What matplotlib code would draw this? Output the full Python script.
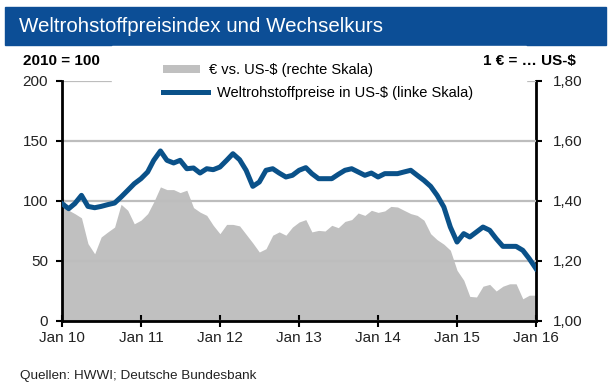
import matplotlib
matplotlib.use("Agg")
import matplotlib.pyplot as plt
import matplotlib.dates as mdates
from matplotlib.patches import Rectangle, Patch
from matplotlib.lines import Line2D
import pandas as pd

plt.rcParams['font.family'] = ['Liberation Sans', 'DejaVu Sans']

# monthly, Jan 2010 .. Jan 2016
months = pd.date_range("2010-01-01", "2016-01-01", freq="MS")

# Weltrohstoffpreise in US-$ (2010 = 100), left scale
commodity = [
    97.8, 93.6, 97.8, 104.7, 95.5, 94.4, 95.5, 97.0, 98.3, 103.3, 108.9, 114.4,
    118.6, 124.2, 133.9, 141.7, 133.9, 131.7, 133.9, 126.9, 127.5, 123.3, 126.9, 126.1,
    128.3, 133.9, 139.4, 134.4, 125.6, 112.2, 115.8, 125.6, 126.9, 123.3, 120.0, 121.4,
    125.6, 127.8, 122.8, 118.6, 118.6, 118.6, 122.2, 125.6, 126.9, 124.2, 121.4, 123.3,
    120.0, 122.8, 122.8, 122.8, 124.2, 125.6, 121.4, 117.2, 112.2, 104.7, 95.0, 78.3,
    65.8, 72.8, 70.0, 74.2, 78.3, 75.6, 68.6, 62.2, 62.2, 62.2, 58.9, 51.9,
    43.6,
]

# EUR vs. US-$, right scale
eurusd = [
    1.419, 1.369, 1.358, 1.344, 1.258, 1.224, 1.280, 1.297, 1.313, 1.389, 1.369, 1.324,
    1.336, 1.358, 1.397, 1.447, 1.438, 1.438, 1.428, 1.436, 1.378, 1.363, 1.352, 1.319,
    1.291, 1.322, 1.322, 1.317, 1.289, 1.260, 1.230, 1.241, 1.286, 1.297, 1.286, 1.313,
    1.330, 1.338, 1.297, 1.302, 1.300, 1.319, 1.311, 1.332, 1.338, 1.360, 1.352, 1.369,
    1.362, 1.367, 1.382, 1.380, 1.369, 1.358, 1.352, 1.336, 1.291, 1.271, 1.256, 1.236,
    1.169, 1.136, 1.082, 1.080, 1.116, 1.122, 1.100, 1.116, 1.124, 1.124, 1.074, 1.086,
    1.086,
]

left_ticks = [0, 50, 100, 150, 200]
right_ticks = [1.0, 1.2, 1.4, 1.6, 1.8]
right_labels = ["1,00", "1,20", "1,40", "1,60", "1,80"]

BLUE = "#0a5189"
GREY = "#c0c0c0"
BANNER = "#0c4e96"
W, H = 612, 391


def fx(px):
    return px / W


def fy(py):
    return 1 - py / H


fig = plt.figure(figsize=(W / 100, H / 100), dpi=100)
ax = fig.add_axes([fx(62), fy(321), 474 / W, 240 / H])
ax2 = ax.twinx()
ax.set_zorder(ax2.get_zorder() + 1)
ax.patch.set_visible(False)

# grey area (right scale) under the blue line (left scale)
ax2.fill_between(months, 1.0, eurusd, color=GREY, lw=0, zorder=1)
ax.plot(months, commodity, color=BLUE, lw=3.6, solid_joinstyle="round", zorder=3)

ax.set_ylim(0, 200)
ax2.set_ylim(1.0, 1.8)
ax.set_xlim(months[0], months[-1])
ax.set_yticks(left_ticks)
ax.set_yticklabels([str(t) for t in left_ticks])
ax2.set_yticks(right_ticks)
ax2.set_yticklabels(right_labels)

ax.xaxis.set_major_locator(mdates.YearLocator())
ax.xaxis.set_major_formatter(mdates.DateFormatter("Jan %y"))

ax.grid(axis="y", color="#bdbdbd", lw=1.6, zorder=0)
ax.set_axisbelow(True)

for a in (ax, ax2):
    for s in a.spines.values():
        s.set_linewidth(2.0)
        s.set_color("black")
    a.spines["top"].set_visible(False)
ax.spines["right"].set_visible(False)
ax2.spines["left"].set_visible(False)
ax2.spines["bottom"].set_visible(False)

ax.tick_params(axis="y", direction="out", length=4, width=1.5, labelsize=11, pad=6,
               labelcolor="#222222")
ax.tick_params(axis="x", direction="inout", length=8, width=1.5, labelsize=11, pad=3,
               labelcolor="#222222")
ax2.tick_params(axis="y", direction="out", length=4, width=1.5, labelsize=11, pad=8,
                labelcolor="#222222")

# title banner
fig.patches.append(Rectangle((fx(5), fy(45)), 601 / W, 38 / H,
                             transform=fig.transFigure, color=BANNER, zorder=0))
fig.text(fx(19), fy(27), "Weltrohstoffpreisindex und Wechselkurs",
         color="white", fontsize=14.8, va="center", ha="left")

# white box behind the legend (hides the top gridline)
fig.patches.append(Rectangle((fx(112), fy(108)), 414 / W, 62 / H,
                             transform=fig.transFigure, color="white", zorder=4))

fig.text(fx(23), fy(61), "2010 = 100", fontsize=11, fontweight="bold",
         va="center", ha="left", zorder=6)
fig.text(fx(576), fy(61), "1 € = … US-$", fontsize=11, fontweight="bold",
         va="center", ha="right", zorder=6)

# legend: two rows placed separately
leg1 = fig.legend([Patch(facecolor=GREY, edgecolor="none")],
                  ["€ vs. US-$ (rechte Skala)"], loc="center left",
                  bbox_to_anchor=(fx(163), fy(70)), frameon=False, fontsize=10.5,
                  handlelength=2.55, handleheight=0.45, handletextpad=0.62,
                  borderpad=0, borderaxespad=0)
leg2 = fig.legend([Line2D([0], [0], color=BLUE, lw=3.6)],
                  ["Weltrohstoffpreise in US-$ (linke Skala)"], loc="center left",
                  bbox_to_anchor=(fx(163), fy(93)), frameon=False, fontsize=10.5,
                  handlelength=3.1, handletextpad=0.62,
                  borderpad=0, borderaxespad=0)
leg1.set_zorder(6)
leg2.set_zorder(6)

fig.text(fx(20), fy(376), "Quellen: HWWI; Deutsche Bundesbank",
         fontsize=9.7, va="center", ha="left", color="#222222")

fig.savefig("out.png", dpi=100)
